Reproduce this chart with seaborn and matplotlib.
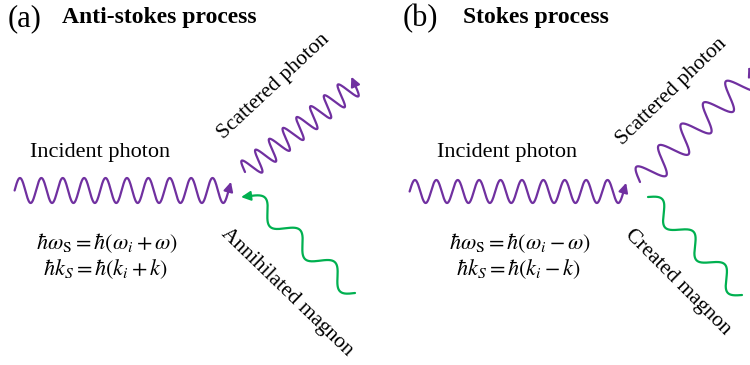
import numpy as np
import pandas as pd
import matplotlib
matplotlib.use("Agg")
import matplotlib.pyplot as plt
import seaborn as sns

sns.set_theme(style="white")
plt.rcParams["font.family"] = ["Liberation Serif", "DejaVu Serif"]
plt.rcParams["mathtext.fontset"] = "stix"
plt.rcParams["text.color"] = "black"

PURPLE = "#7030A0"
GREEN = "#00B050"

# Wave quanta drawn in the two scattering diagrams (canvas pixel units)
wave_names = ["incident_a", "scattered_a", "magnon_a",
              "incident_b", "scattered_b", "magnon_b"]
wave_kind = ["photon", "photon", "magnon", "photon", "photon", "magnon"]
wave_x0 = [14.6, 245.0, 355.0, 409.6, 640.0, 648.0]
wave_y0 = [190.5, 172.0, 293.0, 191.5, 182.0, 197.0]
wave_x1 = [228.6, 355.0, 250.0, 623.6, 752.0, 742.0]
wave_y1 = [190.5, 85.0, 196.0, 191.5, 75.0, 295.0]
wave_cycles = [10, 8, 3, 10, 5, 3]
wave_amp = [12.5, 11.0, 9.0, 11.5, 13.5, 8.8]

panel_tags = ["(a)", "(b)"]
panel_titles = ["Anti-stokes process", "Stokes process"]
eq_energy = [r"$\hbar\omega_\mathrm{S} = \hbar(\omega_i + \omega)$",
             r"$\hbar\omega_\mathrm{S} = \hbar(\omega_i - \omega)$"]
eq_momentum = [r"$\hbar k_S = \hbar(k_i + k)$",
               r"$\hbar k_S = \hbar(k_i - k)$"]
magnon_labels = ["Annihilated magnon", "Created magnon"]


def wave_path(x0, y0, x1, y1, cycles, amp, n=800):
    t = np.linspace(0.0, 1.0, n)
    dx, dy = x1 - x0, y1 - y0
    length = np.hypot(dx, dy)
    ux, uy = dx / length, dy / length
    nx, ny = uy, -ux
    s = amp * np.sin(2 * np.pi * cycles * t)
    x = x0 + t * dx + s * nx
    y = y0 + t * dy + s * ny
    # tangent at the final point
    c = amp * 2 * np.pi * cycles * np.cos(2 * np.pi * cycles)
    tx, ty = dx + c * nx, dy + c * ny
    tn = np.hypot(tx, ty)
    return x, y, (tx / tn, ty / tn)


frames = []
ends = []
for i, name in enumerate(wave_names):
    x, y, tan = wave_path(wave_x0[i], wave_y0[i], wave_x1[i], wave_y1[i],
                          wave_cycles[i], wave_amp[i])
    frames.append(pd.DataFrame({"x": x, "y": y, "wave": name,
                                "kind": wave_kind[i]}))
    ends.append((x[-1], y[-1], tan, wave_kind[i]))
paths = pd.concat(frames, ignore_index=True)

fig = plt.figure(figsize=(7.5, 3.65), dpi=100)
ax = fig.add_axes([0, 0, 1, 1])

sns.lineplot(data=paths, x="x", y="y", units="wave", estimator=None,
             sort=False, hue="kind", palette={"photon": PURPLE, "magnon": GREEN},
             linewidth=1.6, legend=False, ax=ax)

for ex, ey, (tx, ty), kind in ends:
    col = PURPLE if kind == "photon" else GREEN
    head = 9.0
    ax.annotate("", xy=(ex + tx * head, ey + ty * head), xytext=(ex, ey),
                arrowprops=dict(arrowstyle="-|>", color=col, lw=1.5,
                                mutation_scale=14, shrinkA=0, shrinkB=0))

ax.set_xlim(0, 750)
ax.set_ylim(365, 0)
ax.axis("off")

# Panel headers
for tag, title, xt, xtitle in zip(panel_tags, panel_titles, [8, 403], [62, 463]):
    ax.text(xt, 19, tag, fontsize=22, va="center", ha="left")
    ax.text(xtitle, 17, title, fontsize=17, fontweight="bold",
            va="center", ha="left")

# Labels
for cx in [100, 507]:
    ax.text(cx, 152, "Incident photon", fontsize=16, ha="center", va="center")

ax.text(274, 86, "Scattered photon", fontsize=15.5, rotation=43,
        ha="center", va="center", rotation_mode="anchor")
ax.text(672, 92, "Scattered photon", fontsize=15.5, rotation=44,
        ha="center", va="center", rotation_mode="anchor")
ax.text(287, 292, magnon_labels[0], fontsize=15.5, rotation=-44,
        ha="center", va="center", rotation_mode="anchor")
ax.text(678, 282, magnon_labels[1], fontsize=15.5, rotation=-45,
        ha="center", va="center", rotation_mode="anchor")

for cx, e1, e2 in zip([107, 520], eq_energy, eq_momentum):
    ax.text(cx, 243, e1, fontsize=16, ha="center", va="center")
    ax.text(cx - 2, 269, e2, fontsize=16, ha="center", va="center")

fig.savefig("out.png", dpi=100)
